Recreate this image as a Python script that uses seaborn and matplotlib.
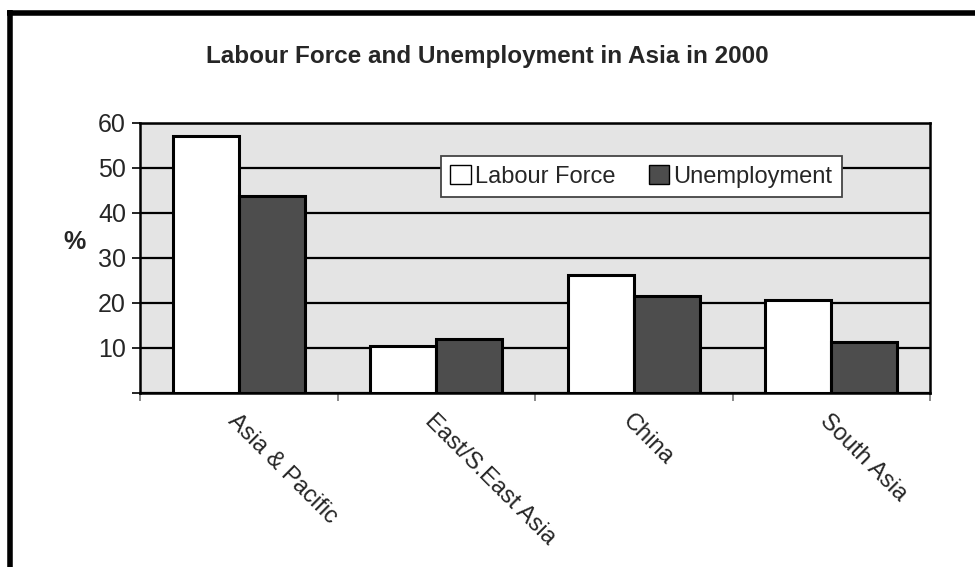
import pandas as pd
import numpy as np
import matplotlib
matplotlib.use("Agg")
import matplotlib.pyplot as plt
import seaborn as sns
from matplotlib.lines import Line2D
from matplotlib.patches import Patch
from matplotlib.ticker import FixedLocator, FixedFormatter

regions = ["Asia & Pacific", "East/S.East Asia", "China", "South Asia"]
labour_force = [57.0, 10.5, 26.3, 20.6]
unemployment = [43.7, 12.0, 21.6, 11.3]
series = ["Labour Force", "Unemployment"]
y_ticks = [0, 10, 20, 30, 40, 50, 60]
y_tick_labels = ["", "10", "20", "30", "40", "50", "60"]

df = pd.DataFrame({
    "Region": regions * 2,
    "Value": labour_force + unemployment,
    "Series": [series[0]] * 4 + [series[1]] * 4,
})

sns.set_style("white")
plt.rcParams["font.family"] = ["Liberation Sans", "DejaVu Sans"]

fig = plt.figure(figsize=(9.75, 5.67), dpi=100)
ax = fig.add_axes([0.1436, 0.3069, 0.8103, 0.4762])

colors = ["white", "#4d4d4d"]
sns.barplot(data=df, x="Region", y="Value", hue="Series", palette=colors,
            edgecolor="black", linewidth=2.2, width=0.67, ax=ax,
            legend=False, zorder=3)

ax.set_facecolor("#e4e4e4")
ax.set_xlim(-0.5, 3.5)
ax.set_ylim(0, 60)
ax.yaxis.set_major_locator(FixedLocator(y_ticks))
ax.yaxis.set_major_formatter(FixedFormatter(y_tick_labels))
ax.grid(axis="y", color="black", linewidth=1.6, zorder=1)
ax.set_axisbelow(True)
for s in ax.spines.values():
    s.set_visible(True)
    s.set_color("black")
    s.set_linewidth(1.8)

ax.tick_params(axis="y", which="major", left=True, length=6, width=1.2,
               color="black", labelsize=18, pad=4)
ax.set_xticks(range(len(regions)))
ax.set_xticklabels(regions, rotation=-45, ha="left", va="top",
                   rotation_mode="anchor", fontsize=17)
ax.tick_params(axis="x", which="major", length=0, pad=12)
ax.set_xticks([-0.5, 0.5, 1.5, 2.5, 3.5], minor=True)
ax.tick_params(axis="x", which="minor", bottom=True, length=6, width=1.2,
               color="#777777")
for lab in ax.get_xticklabels():
    lab.set_x(lab.get_position()[0] - 0.04)

ax.set_xlabel("")
ax.set_ylabel("%", rotation=0, fontsize=18, fontweight="bold", va="center")
ax.yaxis.set_label_coords(-0.083, 0.56)

handles = [Patch(facecolor=c, edgecolor="black", linewidth=1) for c in colors]
leg = ax.legend(handles, series, loc="upper left", bbox_to_anchor=(0.381, 0.879),
                ncol=2, frameon=True, fancybox=False, fontsize=17,
                handlelength=0.85, handleheight=0.85, handletextpad=0.2,
                columnspacing=1.4, borderpad=0.4, borderaxespad=0)
leg.get_frame().set_edgecolor("#444444")
leg.get_frame().set_linewidth(1.3)
leg.get_frame().set_facecolor("white")
leg.get_frame().set_alpha(1)

fig.text(0.5, 1 - 57 / 567, "Labour Force and Unemployment in Asia in 2000",
         ha="center", va="center", fontsize=17.5, fontweight="bold")

# outer frame (only top and left edges show in the crop)
fig.add_artist(Line2D([10 / 975, 10 / 975], [0, 1 - 10.2 / 567],
                      transform=fig.transFigure, color="black", linewidth=4,
                      solid_capstyle="butt"))
fig.add_artist(Line2D([7.2 / 975, 1], [1 - 13 / 567, 1 - 13 / 567],
                      transform=fig.transFigure, color="black", linewidth=4,
                      solid_capstyle="butt"))

fig.savefig("out.png", dpi=100)
